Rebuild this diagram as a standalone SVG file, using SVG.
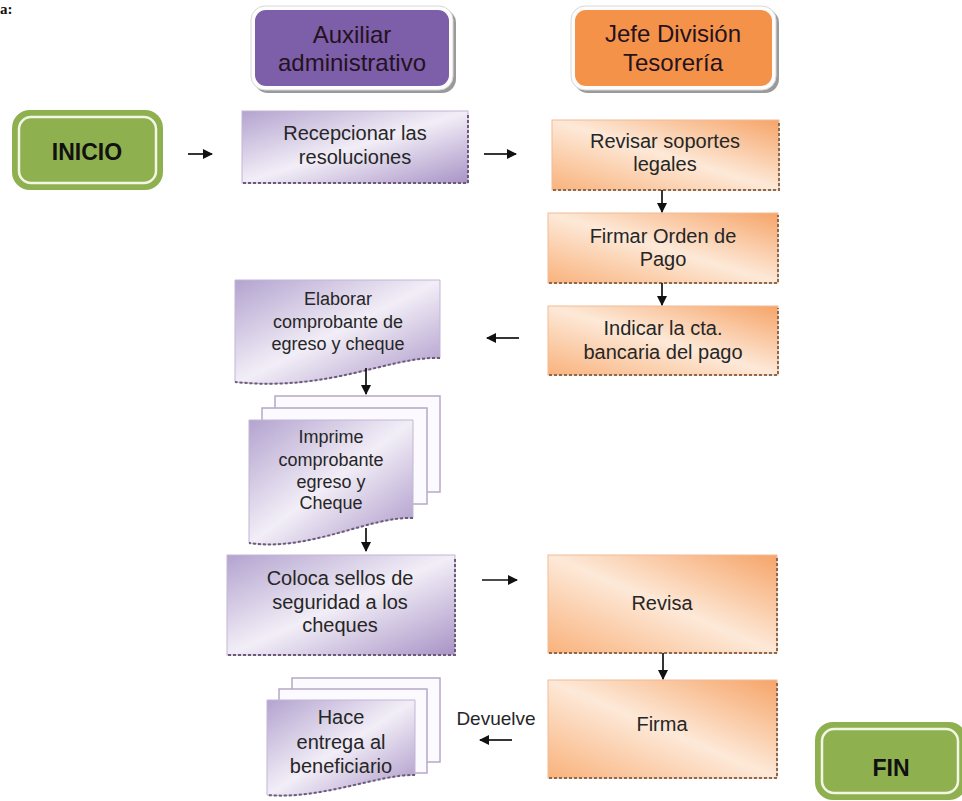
<svg xmlns="http://www.w3.org/2000/svg" width="962" height="801" viewBox="0 0 962 801">
  <defs>
    <linearGradient id="gPurple" x1="0" y1="0" x2="1" y2="1">
      <stop offset="0" stop-color="#b3a3cf"/>
      <stop offset="0.5" stop-color="#f2eef7"/>
      <stop offset="1" stop-color="#a893c6"/>
    </linearGradient>
    <linearGradient id="gOrange" x1="0" y1="1" x2="1" y2="0">
      <stop offset="0" stop-color="#f9b27c"/>
      <stop offset="0.5" stop-color="#fde9d8"/>
      <stop offset="1" stop-color="#f6a468"/>
    </linearGradient>
    <marker id="arrow" viewBox="0 0 10 10" refX="9" refY="5" markerWidth="10" markerHeight="10" markerUnits="userSpaceOnUse" orient="auto">
      <path d="M0,0 L10,5 L0,10 Z" fill="#111"/>
    </marker>
  </defs>
  <style>
    text { font-family: "Liberation Sans", Arial, sans-serif; text-anchor: middle; }
    .hdr { font-size: 24px; fill: #24121f; }
    .lbl { font-size: 20px; fill: #262626; }
    .sm { font-size: 18px; fill: #262626; }
    .term { font-size: 23px; font-weight: bold; fill: #111; }
    .pp { fill: url(#gPurple); stroke: #c4b5d6; stroke-width: 1; }
    .po { fill: url(#gOrange); stroke: #f1bc95; stroke-width: 1; }
    .edgeP { fill: none; stroke: #6c5a78; stroke-width: 2; stroke-dasharray: 3 2; }
    .edgeO { fill: none; stroke: #8c6a52; stroke-width: 2; stroke-dasharray: 3 2; }
    .sheet { fill: #fbfaff; stroke: #b6a8c8; stroke-width: 1.5; }
    .shadow { fill: #9a9a9a; }
    .green { fill: #8fb04f; }
    .greenIn { fill: none; stroke: #f2f6e6; stroke-width: 2.5; }
    .conn line { stroke: #111; stroke-width: 1.7; marker-end: url(#arrow); }
  </style>

  <rect width="962" height="801" fill="#ffffff"/>

  <text x="0" y="14" style="font-family:'Liberation Serif',serif;font-size:15px;font-weight:bold;text-anchor:start;fill:#111">a:</text>

  <!-- lane headers -->
  <g id="hdr-auxiliar">
    <rect x="254" y="9" width="202" height="84" rx="14" class="shadow"/>
    <rect x="251" y="6" width="202" height="84" rx="14" fill="#fdfcfe" stroke="#d8d8d8"/>
    <rect x="255" y="10" width="194" height="76" rx="11" fill="#7d5ea8"/>
    <text class="hdr" x="352" y="43">Auxiliar</text>
    <text class="hdr" x="352" y="71">administrativo</text>
  </g>
  <g id="hdr-jefe">
    <rect x="574" y="9" width="205" height="84" rx="14" class="shadow"/>
    <rect x="571" y="6" width="205" height="84" rx="14" fill="#fefcfa" stroke="#d8d8d8"/>
    <rect x="575" y="10" width="197" height="76" rx="11" fill="#f5924a"/>
    <text class="hdr" x="673" y="42">Jefe División</text>
    <text class="hdr" x="673" y="71">Tesorería</text>
  </g>

  <!-- terminals -->
  <g id="inicio">
    <rect x="12" y="110" width="151" height="80" rx="18" class="green"/>
    <rect x="19" y="117" width="137" height="66" rx="12" class="greenIn"/>
    <text class="term" x="87" y="160">INICIO</text>
  </g>
  <g id="fin">
    <rect x="815" y="722" width="152" height="78" rx="18" class="green"/>
    <rect x="822" y="729" width="136" height="64" rx="12" class="greenIn"/>
    <text class="term" x="891" y="776">FIN</text>
  </g>

  <!-- auxiliar lane -->
  <g id="recepcionar">
    <rect x="242" y="111" width="226" height="72" class="pp"/>
    <path d="M243,183 H468 V113" class="edgeP"/>
    <text class="lbl" x="355" y="140">Recepcionar las</text>
    <text class="lbl" x="355" y="164">resoluciones</text>
  </g>

  <g id="elaborar">
    <path d="M235,280 H440 V358 C390,356 330,392 235,382 Z" class="pp"/>
    <path d="M440,358 C390,356 330,392 235,382" class="edgeP"/>
    <text class="sm" x="338" y="305">Elaborar</text>
    <text class="sm" x="338" y="328">comprobante de</text>
    <text class="sm" x="338" y="350">egreso y cheque</text>
  </g>

  <g id="imprime">
    <rect x="275" y="396" width="165" height="96" class="sheet"/>
    <rect x="262" y="408" width="165" height="96" class="sheet"/>
    <path d="M249,420 H413 V518 C370,516 310,552 249,543 Z" class="pp"/>
    <path d="M413,518 C370,516 310,552 249,543" class="edgeP"/>
    <text class="sm" x="331" y="443">Imprime</text>
    <text class="sm" x="331" y="466">comprobante</text>
    <text class="sm" x="331" y="488">egreso y</text>
    <text class="sm" x="331" y="509">Cheque</text>
  </g>

  <g id="coloca">
    <rect x="227" y="555" width="228" height="100" class="pp"/>
    <path d="M228,655 H455 V557" class="edgeP"/>
    <text class="lbl" x="340" y="585">Coloca sellos de</text>
    <text class="lbl" x="340" y="609">seguridad a los</text>
    <text class="lbl" x="340" y="632">cheques</text>
  </g>

  <g id="entrega">
    <rect x="292" y="678" width="148" height="84" class="sheet"/>
    <rect x="279" y="689" width="148" height="84" class="sheet"/>
    <path d="M267,700 H415 V775 C380,774 320,800 267,795 Z" class="pp"/>
    <path d="M415,775 C380,774 320,800 267,795" class="edgeP"/>
    <text class="lbl" x="341" y="724">Hace</text>
    <text class="lbl" x="341" y="749">entrega al</text>
    <text class="lbl" x="341" y="773">beneficiario</text>
  </g>

  <!-- jefe lane -->
  <g id="revisar-soportes">
    <rect x="552" y="120" width="227" height="70" class="po"/>
    <path d="M553,190 H779 V122" class="edgeO"/>
    <text class="lbl" x="665" y="148">Revisar soportes</text>
    <text class="lbl" x="665" y="171">legales</text>
  </g>

  <g id="firmar-orden">
    <rect x="548" y="213" width="230" height="70" class="po"/>
    <path d="M549,283 H778 V215" class="edgeO"/>
    <text class="lbl" x="663" y="243">Firmar Orden de</text>
    <text class="lbl" x="663" y="266">Pago</text>
  </g>

  <g id="indicar-cta">
    <rect x="548" y="306" width="230" height="69" class="po"/>
    <path d="M549,375 H778 V308" class="edgeO"/>
    <text class="lbl" x="663" y="335">Indicar la cta.</text>
    <text class="lbl" x="663" y="359">bancaria del pago</text>
  </g>

  <g id="revisa">
    <rect x="548" y="555" width="229" height="98" class="po"/>
    <path d="M549,653 H777 V557" class="edgeO"/>
    <text class="lbl" x="662" y="610">Revisa</text>
  </g>

  <g id="firma">
    <rect x="548" y="680" width="229" height="98" class="po"/>
    <path d="M549,778 H777 V682" class="edgeO"/>
    <text class="lbl" x="662" y="731">Firma</text>
  </g>

  <!-- connectors -->
  <g id="connectors" class="conn">
    <line x1="188" y1="154" x2="212" y2="154"/>
    <line x1="484" y1="154" x2="516" y2="154"/>
    <line x1="662" y1="190" x2="662" y2="212"/>
    <line x1="662" y1="283" x2="662" y2="305"/>
    <line x1="519" y1="338" x2="487" y2="338"/>
    <line x1="366" y1="368" x2="366" y2="394"/>
    <line x1="366" y1="528" x2="366" y2="551"/>
    <line x1="482" y1="580" x2="517" y2="580"/>
    <line x1="663" y1="653" x2="663" y2="679"/>
    <line x1="512" y1="740" x2="480" y2="740"/>
    <text class="lbl" x="496" y="725" style="font-size:19px">Devuelve</text>
  </g>
</svg>
